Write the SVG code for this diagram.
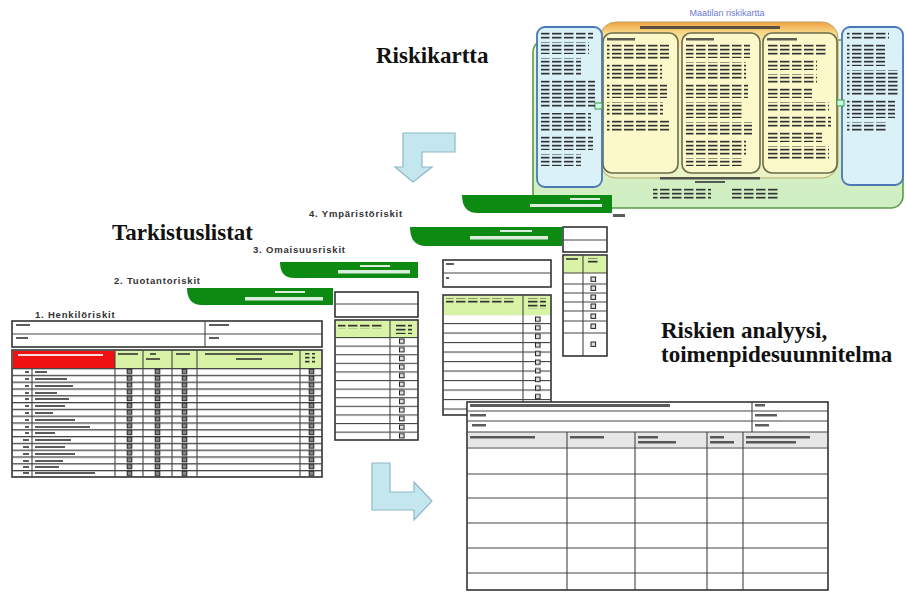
<svg xmlns="http://www.w3.org/2000/svg" width="906" height="592" viewBox="0 0 906 592">
<style>
.title{font-family:"Liberation Serif","Times New Roman",serif;font-weight:bold;font-size:23px;fill:#111}
.lbl{font-family:"Liberation Sans",Arial,sans-serif;font-weight:bold;font-size:9.5px;letter-spacing:0.8px;fill:#333}
.ln{stroke:#444;stroke-width:1.1;fill:none}
.bd{stroke:#333;stroke-width:1.6;fill:#fff}
.hg{fill:#d9f3a6}
.tx{fill:#333;opacity:.8}
.wt{fill:#fff;opacity:.85}
.ban{fill:#0d8a12}
.blk{fill:url(#words)}
.arrow{fill:#c4e7ef;stroke:#8db8c6;stroke-width:1.2}
</style>
<defs>
<pattern id="words" width="12" height="4" patternUnits="userSpaceOnUse"><rect x="0" y="0.8" width="9.5" height="1.7" fill="#333"/></pattern>
<pattern id="cb" width="8" height="8.6" patternUnits="userSpaceOnUse"><rect x="1.5" y="2" width="4.6" height="4.4" fill="#ddd" stroke="#222" stroke-width="1"/></pattern>
<pattern id="cb1" width="7" height="6.8" patternUnits="userSpaceOnUse"><rect x="1.2" y="1.2" width="4.6" height="4.4" fill="#888" stroke="#222" stroke-width="1"/></pattern>
<pattern id="rows1" width="20" height="6.8" patternUnits="userSpaceOnUse"><rect x="0" y="0" width="20" height="1.3" fill="#444"/></pattern>
<pattern id="rows2" width="20" height="8.6" patternUnits="userSpaceOnUse"><rect x="0" y="0" width="20" height="1.1" fill="#444"/></pattern>
<pattern id="rows3" width="20" height="9.5" patternUnits="userSpaceOnUse"><rect x="0" y="0" width="20" height="1.1" fill="#444"/></pattern>
<linearGradient id="orng" x1="0" y1="0" x2="0" y2="1">
<stop offset="0" stop-color="#f0a040"/><stop offset="0.07" stop-color="#f7d98a"/><stop offset="0.18" stop-color="#f6f3c2"/><stop offset="1" stop-color="#eaf4c6"/>
</linearGradient>
<linearGradient id="bg" x1="0" y1="0" x2="0" y2="1">
<stop offset="0" stop-color="#f0f6d8"/><stop offset="1" stop-color="#cdeec0"/>
</linearGradient>
</defs>
<rect width="906" height="592" fill="#fff"/>

<text class="title" x="376" y="63">Riskikartta</text>
<text class="title" x="112" y="240">Tarkistuslistat</text>
<text class="title" x="661" y="338">Riskien analyysi,</text>
<text class="title" x="661" y="362">toimenpidesuunnitelma</text>

<g id="riskikartta">
<text x="727" y="16" text-anchor="middle" font-family="Liberation Sans, Arial, sans-serif" font-size="9" fill="#6b7bd2">Maatilan riskikartta</text>
<rect x="533" y="40" width="370" height="168" rx="12" fill="url(#bg)" stroke="#5b9b4b" stroke-width="1.6"/>
<rect x="600" y="22" width="238" height="156" rx="16" fill="url(#orng)" stroke="#b9a565" stroke-width="1"/>
<rect x="640" y="26" width="140" height="3" class="tx"/>
<rect x="603" y="33" width="75" height="140" rx="9" fill="#fbf9c9" stroke="#6b6b4b" stroke-width="1.6"/>
<rect x="682" y="33" width="78" height="140" rx="9" fill="#fbf9c9" stroke="#6b6b4b" stroke-width="1.6"/>
<rect x="763" y="33" width="74" height="140" rx="9" fill="#fbf9c9" stroke="#6b6b4b" stroke-width="1.6"/>
<rect x="537" y="27" width="65" height="160" rx="8" fill="#d9f1f7" stroke="#4a78b6" stroke-width="1.8"/>
<rect x="842" y="27" width="61" height="158" rx="8" fill="#d9f1f7" stroke="#4a78b6" stroke-width="1.8"/>
<rect x="595" y="103" width="7" height="6" fill="#cfe" stroke="#3a9a3a" stroke-width="1"/>
<rect x="837" y="100" width="7" height="6" fill="#cfe" stroke="#3a9a3a" stroke-width="1"/>
<g class="blk">
<rect x="541" y="32" width="52" height="7"/><rect x="541" y="42" width="48" height="12"/><rect x="541" y="58" width="40" height="18"/><rect x="541" y="80" width="54" height="28"/><rect x="541" y="113" width="50" height="18"/><rect x="541" y="136" width="52" height="14"/><rect x="541" y="154" width="40" height="12"/>
<rect x="847" y="32" width="42" height="8"/><rect x="847" y="44" width="38" height="22"/><rect x="847" y="70" width="52" height="26"/><rect x="847" y="100" width="48" height="18"/><rect x="847" y="122" width="40" height="10"/>
<rect x="607" y="44" width="62" height="16"/><rect x="607" y="64" width="55" height="16"/><rect x="607" y="84" width="60" height="14"/><rect x="607" y="102" width="56" height="14"/><rect x="607" y="120" width="62" height="12"/>
<rect x="686" y="44" width="64" height="14"/><rect x="686" y="62" width="60" height="18"/><rect x="686" y="84" width="62" height="14"/><rect x="686" y="102" width="58" height="16"/><rect x="686" y="122" width="66" height="14"/><rect x="686" y="140" width="60" height="16"/><rect x="686" y="158" width="56" height="8"/>
<rect x="767" y="44" width="60" height="12"/><rect x="767" y="60" width="50" height="10"/><rect x="767" y="74" width="50" height="10"/><rect x="767" y="88" width="45" height="10"/><rect x="767" y="102" width="62" height="10"/><rect x="767" y="116" width="64" height="12"/><rect x="767" y="132" width="55" height="10"/><rect x="767" y="146" width="62" height="14"/>
<rect x="653" y="188" width="58" height="12"/><rect x="730" y="188" width="50" height="12"/>
</g>
<rect x="607" y="38" width="28" height="2.5" class="tx"/><rect x="686" y="38" width="28" height="2.5" class="tx"/><rect x="767" y="38" width="30" height="2.5" class="tx"/>
<rect x="660" y="177" width="100" height="2.5" class="tx"/><rect x="695" y="181" width="30" height="2" class="tx"/>
</g>

<g id="doc4">
<path d="M462,195 H612 V213 H478 Q462,213 462,195 Z" class="ban"/>
<rect x="570" y="198" width="30" height="2" class="wt"/><rect x="530" y="204" width="72" height="3" class="wt"/>
<text class="lbl" x="309" y="217">4. Ympäristöriskit</text>
<rect x="613" y="214" width="12" height="3" class="tx"/>
<rect x="563" y="227" width="44" height="25" class="bd"/><line x1="563" y1="240" x2="607" y2="240" class="ln"/>
<rect x="563" y="255" width="44" height="101" class="bd"/>
<rect x="564" y="256" width="42" height="17" class="hg"/>
<line x1="583" y1="255" x2="583" y2="356" class="ln"/>
<path d="M563,273H607M563,284H607M563,293H607M563,302H607M563,311H607M563,321H607M563,333H607" class="ln"/>
<rect x="566" y="258" width="12" height="2" class="tx"/><rect x="588" y="258" width="12" height="6" class="blk"/>
<g fill="#ddd" stroke="#222" stroke-width="1"><rect x="591" y="277" width="4.6" height="4.4"/><rect x="591" y="286" width="4.6" height="4.4"/><rect x="591" y="295" width="4.6" height="4.4"/><rect x="591" y="304" width="4.6" height="4.4"/><rect x="591" y="314" width="4.6" height="4.4"/><rect x="591" y="324" width="4.6" height="4.4"/><rect x="591" y="342" width="4.6" height="4.4"/></g>
</g>

<g id="doc3">
<path d="M410,227 H562 V246 H426 Q410,246 410,227 Z" class="ban"/>
<rect x="500" y="230" width="32" height="2" class="wt"/><rect x="470" y="236" width="78" height="3.5" class="wt"/>
<text class="lbl" x="253" y="253">3. Omaisuusriskit</text>
<rect x="443" y="260" width="108" height="27" class="bd"/><line x1="443" y1="273" x2="551" y2="273" class="ln"/>
<rect x="446" y="263" width="8" height="2" class="tx"/><rect x="446" y="277" width="3" height="2" class="tx"/>
<rect x="443" y="295" width="108" height="120" class="bd"/>
<rect x="444" y="296" width="106" height="19" class="hg"/>
<rect x="443" y="315" width="108" height="100" fill="url(#rows3)"/>
<line x1="523" y1="295" x2="523" y2="415" class="ln"/>
<rect x="446" y="298" width="70" height="6" class="blk"/><rect x="528" y="298" width="18" height="11" class="blk"/>
<g transform="translate(534,315)"><rect width="8" height="95" fill="url(#cb)"/></g>
</g>

<g id="doc2">
<path d="M280,262 H418 V278 H294 Q280,278 280,262 Z" class="ban"/>
<rect x="360" y="265" width="30" height="2" class="wt"/><rect x="338" y="270" width="72" height="3.5" class="wt"/>
<text class="lbl" x="114" y="284">2. Tuotantoriskit</text>
<rect x="335" y="292" width="83" height="25" class="bd"/><line x1="335" y1="304" x2="418" y2="304" class="ln"/>
<rect x="335" y="320" width="83" height="120" class="bd"/>
<rect x="336" y="321" width="81" height="16" class="hg"/>
<g transform="translate(335,337)"><rect width="83" height="103" fill="url(#rows2)"/></g>
<line x1="390" y1="320" x2="390" y2="440" class="ln"/>
<rect x="338" y="323" width="45" height="6" class="blk"/><rect x="394" y="323" width="18" height="11" class="blk"/>
<g transform="translate(398,337)"><rect width="8" height="103" fill="url(#cb)"/></g>
</g>

<g id="doc1">
<path d="M187,288 H333 V305 H202 Q187,305 187,288 Z" class="ban"/>
<rect x="275" y="291" width="30" height="2" class="wt"/><rect x="245" y="297" width="78" height="3.5" class="wt"/>
<text class="lbl" x="35" y="318">1. Henkilöriskit</text>
<rect x="12" y="321" width="310" height="26" class="bd"/>
<line x1="12" y1="334" x2="322" y2="334" class="ln"/><line x1="205" y1="321" x2="205" y2="347" class="ln"/>
<rect x="16" y="324" width="14" height="2" class="tx"/><rect x="16" y="337" width="12" height="2" class="tx"/><rect x="209" y="324" width="20" height="2" class="tx"/><rect x="209" y="337" width="10" height="2" class="tx"/>
<rect x="12" y="350" width="310" height="127" class="bd"/>
<rect x="13" y="351" width="102" height="17" fill="#f01212"/>
<rect x="115" y="351" width="206" height="17" class="hg"/>
<g transform="translate(12,368)"><rect width="310" height="109" fill="url(#rows1)"/></g>
<path d="M32,368V477M115,350V477M143,350V477M172,350V477M197,350V477M300,350V477" class="ln" stroke-width="1.4"/>
<rect x="18" y="354" width="85" height="2" class="wt"/>
<rect x="118" y="353" width="20" height="2" class="tx"/><rect x="150" y="353" width="6" height="2" class="tx"/><rect x="146" y="358" width="14" height="2" class="tx"/><rect x="176" y="353" width="14" height="2" class="tx"/><rect x="205" y="353" width="88" height="2" class="tx"/><rect x="236" y="358" width="26" height="2" class="tx"/><rect x="305" y="353" width="10" height="10" class="blk"/>
<g class="tx">
<rect x="25" y="371" width="4" height="2"/><rect x="35" y="371" width="12" height="2"/>
<rect x="25" y="378" width="4" height="2"/><rect x="35" y="378" width="32" height="2"/>
<rect x="25" y="385" width="4" height="2"/><rect x="35" y="385" width="38" height="2"/>
<rect x="25" y="392" width="4" height="2"/><rect x="35" y="392" width="22" height="2"/>
<rect x="25" y="398" width="4" height="2"/><rect x="35" y="398" width="34" height="2"/>
<rect x="25" y="405" width="4" height="2"/><rect x="35" y="405" width="30" height="2"/>
<rect x="25" y="412" width="4" height="2"/><rect x="35" y="412" width="18" height="2"/>
<rect x="25" y="419" width="4" height="2"/><rect x="35" y="419" width="40" height="2"/>
<rect x="25" y="426" width="4" height="2"/><rect x="35" y="426" width="55" height="2"/>
<rect x="25" y="432" width="4" height="2"/><rect x="35" y="432" width="20" height="2"/>
<rect x="23" y="439" width="6" height="2"/><rect x="35" y="439" width="36" height="2"/>
<rect x="23" y="446" width="6" height="2"/><rect x="35" y="446" width="30" height="2"/>
<rect x="23" y="453" width="6" height="2"/><rect x="35" y="453" width="40" height="2"/>
<rect x="23" y="460" width="6" height="2"/><rect x="35" y="460" width="28" height="2"/>
<rect x="23" y="466" width="6" height="2"/><rect x="35" y="466" width="24" height="2"/>
<rect x="23" y="472" width="6" height="2"/><rect x="35" y="472" width="60" height="2"/>
</g>
<g transform="translate(126,368)"><rect width="7" height="109" fill="url(#cb1)"/></g>
<g transform="translate(154,368)"><rect width="7" height="109" fill="url(#cb1)"/></g>
<g transform="translate(181,368)"><rect width="7" height="109" fill="url(#cb1)"/></g>
<g transform="translate(308,368)"><rect width="7" height="109" fill="url(#cb1)"/></g>
</g>

<g id="analyysi">
<rect x="467" y="402" width="361" height="188" class="bd"/>
<rect x="468" y="432" width="359" height="15" fill="#e6e6e6"/>
<path d="M467,411H828M467,421H828M467,432H828M467,448H828M467,474H828M467,498H828M467,523H828M467,548H828M467,573H828" class="ln" stroke-width="1.4"/>
<path d="M752,402V432M567,432V590M635,432V590M707,432V590M743,432V590" class="ln" stroke-width="1.4"/>
<rect x="470" y="404" width="200" height="3" class="tx"/>
<rect x="470" y="414" width="16" height="2.5" class="tx"/><rect x="472" y="424" width="14" height="2.5" class="tx"/>
<rect x="755" y="404" width="10" height="2.5" class="tx"/><rect x="755" y="414" width="22" height="2.5" class="tx"/><rect x="755" y="424" width="14" height="2.5" class="tx"/>
<rect x="470" y="436" width="65" height="2.5" class="tx"/>
<rect x="570" y="436" width="34" height="2.5" class="tx"/>
<rect x="638" y="436" width="20" height="2.5" class="tx"/><rect x="638" y="441" width="38" height="2.5" class="tx"/>
<rect x="710" y="436" width="14" height="2.5" class="tx"/><rect x="710" y="441" width="24" height="2.5" class="tx"/>
<rect x="746" y="436" width="64" height="2.5" class="tx"/><rect x="746" y="441" width="50" height="2.5" class="tx"/>
</g>

<g id="connectors">
<path class="arrow" d="M455,133 L403,133 L403,167 L395,167 L413,182 L432,167 L422,167 L422,152 L455,152 Z"/>
<path class="arrow" d="M372,463 L390,463 L390,492 L414,492 L414,482 L432,501 L414,520 L414,510 L372,510 Z"/>
</g>
</svg>
